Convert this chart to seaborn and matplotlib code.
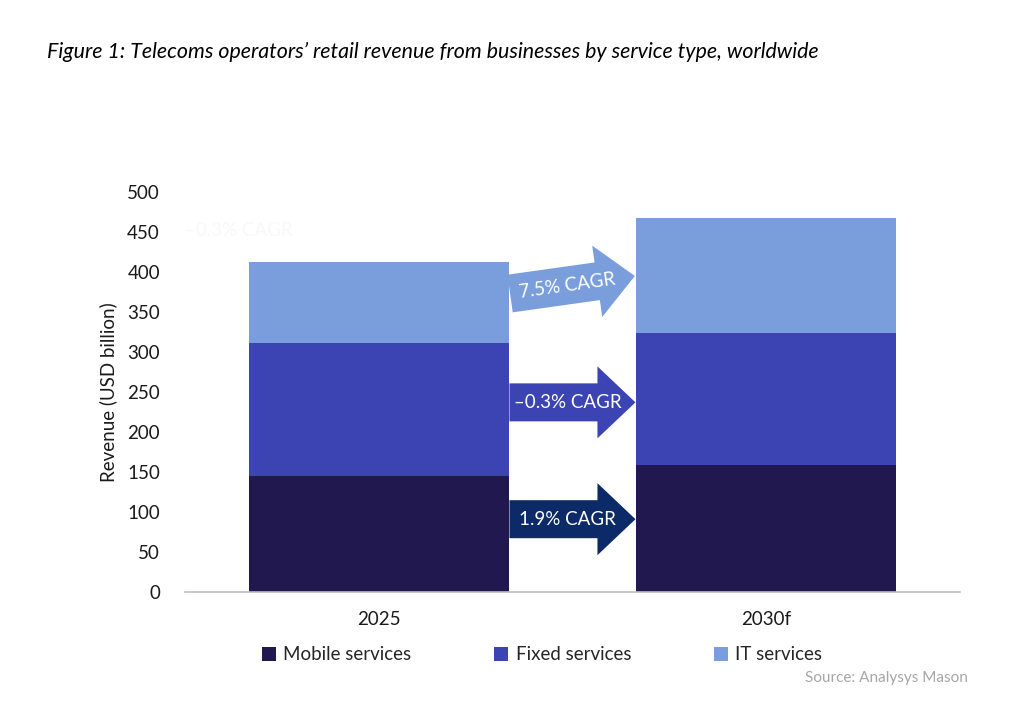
import numpy as np
import pandas as pd
import matplotlib
matplotlib.use("Agg")
import matplotlib.pyplot as plt
import matplotlib.transforms as mtransforms
from matplotlib.patches import Polygon, Patch
import seaborn as sns

# data
years = ["2025", "2030f"]
mobile = [145, 159]
fixed = [166, 165]
it = [101, 144]
series_names = ["Mobile services", "Fixed services", "IT services"]
cagr_labels = ["1.9% CAGR", "\u20130.3% CAGR", "7.5% CAGR"]

# colours
c_mobile = "#21184f"
c_fixed = "#3b44b2"
c_it = "#7a9edb"
c_arrow_mobile = "#0c2a68"

sns.set_theme(style="white")
plt.rcParams["font.family"] = ["Lato", "DejaVu Sans"]

df = pd.DataFrame({"year": years, "Mobile": mobile, "Fixed": fixed, "IT": it})
df["mf"] = df["Mobile"] + df["Fixed"]
df["total"] = df["mf"] + df["IT"]

fig = plt.figure(figsize=(10.31, 7.2), dpi=100)
ax = fig.add_axes([0.1794, 0.1778, 0.7517, 0.5556])

# stacked bars: draw cumulative totals from the top down
bw = 0.67
for col, c in [("total", c_it), ("mf", c_fixed), ("Mobile", c_mobile)]:
    sns.barplot(data=df, x="year", y=col, color=c, width=bw, saturation=1,
                errorbar=None, linewidth=0, ax=ax)

ax.set_xlim(-0.5, 1.5)
ax.set_ylim(0, 500)
ax.set_yticks(np.arange(0, 501, 50))
ax.set_xlabel("")
ax.set_ylabel("Revenue (USD billion)", fontsize=13.5, color="#1a1a1a")
ax.yaxis.set_label_coords(-0.088, 0.5)
for s in ["top", "right", "left"]:
    ax.spines[s].set_visible(False)
ax.spines["bottom"].set_color("#bfbfbf")
ax.spines["bottom"].set_linewidth(1.2)
ax.tick_params(axis="y", length=0, pad=18, labelsize=13.5, labelcolor="#1a1a1a")
ax.tick_params(axis="x", length=0, pad=14, labelsize=13.5, labelcolor="#1a1a1a")


# CAGR arrows between the bars (shape in pixels, anchored in data coords)
def cagr_arrow(yv, color, label, angle=0):
    L, h, H, hl = 126, 19, 36, 38
    pts = [(-L / 2, -h), (L / 2 - hl, -h), (L / 2 - hl, -H), (L / 2, 0),
           (L / 2 - hl, H), (L / 2 - hl, h), (-L / 2, h)]
    tr = mtransforms.Affine2D().rotate_deg(angle) + \
        mtransforms.ScaledTranslation(0.5, yv, ax.transData)
    ax.add_patch(Polygon(pts, closed=True, facecolor=color, edgecolor="none",
                         transform=tr, clip_on=False))
    ttr = mtransforms.Affine2D().translate(-5, 0).rotate_deg(angle) + \
        mtransforms.ScaledTranslation(0.5, yv, ax.transData)
    ax.text(0, 0, label, transform=ttr, ha="center", va="center",
            rotation=angle, rotation_mode="anchor", color="white", fontsize=13.5)


cagr_arrow(91, c_arrow_mobile, cagr_labels[0])
cagr_arrow(237, c_fixed, cagr_labels[1])
cagr_arrow(384, c_it, cagr_labels[2], angle=8)

# faint leftover label in the top-left corner
ax.text(-0.36, 452, cagr_labels[1], ha="center", va="center",
        color="#f8f8f8", fontsize=13.5)

fig.text(47 / 1031, 1 - 52 / 720,
         "Figure 1: Telecoms operators\u2019 retail revenue from businesses by service type, worldwide",
         ha="left", va="center", fontsize=15.4, style="italic", color="black")

handles = [Patch(facecolor=c, edgecolor="none") for c in [c_mobile, c_fixed, c_it]]
fig.legend(handles, series_names, loc="center", bbox_to_anchor=(542 / 1031, 1 - 655 / 720),
           ncol=3, frameon=False, fontsize=13.5, handlelength=0.75, handleheight=0.75,
           handletextpad=0.4, columnspacing=4.4)

fig.text(968 / 1031, 1 - 678 / 720, "Source: Analysys Mason", ha="right", va="center",
         fontsize=11, color="#a6a6a6")

fig.savefig("out.png", dpi=100)
